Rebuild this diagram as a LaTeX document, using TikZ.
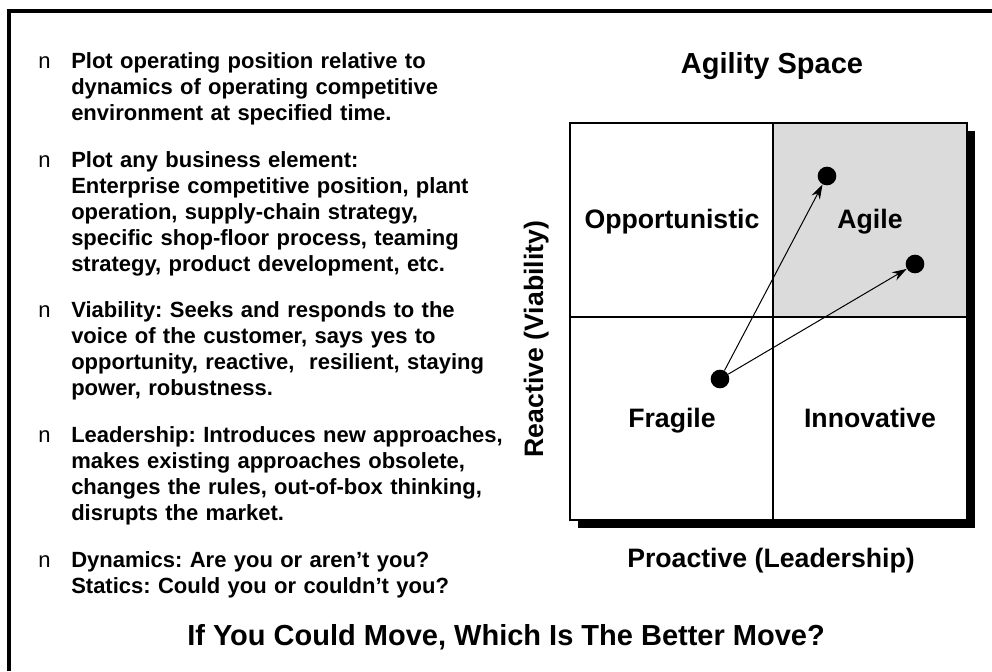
\documentclass[tikz,border=0pt]{standalone}
\usepackage{fontspec}
\setmainfont{Liberation Sans}
\usetikzlibrary{arrows.meta,positioning}

\definecolor{agilegray}{gray}{0.86}
\frenchspacing

\tikzset{
  item/.style={anchor=base west, inner sep=0pt, text width=340pt, align=left,
    font=\bfseries\fontsize{16.5pt}{19.5pt}\selectfont},
  bul/.style={anchor=base west, inner sep=0pt, font=\fontsize{16.5pt}{19.5pt}\selectfont},
  quad/.style={anchor=base, inner sep=0pt, font=\bfseries\fontsize{20pt}{24pt}\selectfont},
  headline/.style={anchor=base, inner sep=0pt, font=\bfseries\fontsize{21.75pt}{26pt}\selectfont},
  dot/.style={circle, fill=black, inner sep=0pt, minimum size=14pt},
  move/.style={-{Stealth[length=11pt,width=7pt]}, line width=0.75pt}
}

\begin{document}
\begin{tikzpicture}[x=0.75pt, y=-0.75pt]
    \useasboundingbox (0,0) rectangle (992,671);

    % Frame
    \draw[line width=3pt] (9,671) -- (9,11) -- (992,11);

    % Bullet list
    \node[bul] at (38,68) {n};
    \node[item] (plot) at (71,68) {Plot operating position relative to\\
        dynamics of operating competitive\\
        environment at specified time.};
    \node[bul] at (38,167) {n};
    \node[item] (element) at (71,167) {Plot any business element:\\
        Enterprise competitive position, plant\\
        operation, supply-chain strategy,\\
        specific shop-floor process, teaming\\
        strategy, product development, etc.};
    \node[bul] at (38,317) {n};
    \node[item] (viability) at (71,317) {Viability: Seeks and responds to the\\
        voice of the customer, says yes to\\
        opportunity, reactive,\ \ resilient, staying\\
        power, robustness.};
    \node[bul] at (38,442) {n};
    \node[item] (leadership) at (71,442) {Leadership: Introduces new approaches,\\
        makes existing approaches obsolete,\\
        changes the rules, out-of-box thinking,\\
        disrupts the market.};
    \node[bul] at (38,567) {n};
    \node[item] (dynamics) at (71,567) {Dynamics: Are you or aren’t you?\\
        Statics: Could you or couldn’t you?};

    % Agility space
    \node[headline] (space) at (772,73) {Agility Space};
    \fill (578,131) rectangle (975,528);
    \fill[white] (570,123) rectangle (967,520);
    \fill[agilegray] (773,123) rectangle (967,317);
    \draw[line width=1.5pt] (773,123) -- (773,520);
    \draw[line width=1.5pt] (570,317) -- (967,317);
    \draw[line width=1.5pt] (570,123) rectangle (967,520);

    \node[quad] (opportunistic) at (672,228) {Opportunistic};
    \node[quad] (agile) at (870,228) {Agile};
    \node[quad] (fragile) at (672,427) {Fragile};
    \node[quad] (innovative) at (870,427) {Innovative};

    \node[quad] (proactive) at (771,567) {Proactive (Leadership)};
    \node[quad, rotate=90] (reactive) at (543,339) {Reactive (Viability)};

    % Moves
    \node[dot] (now) at (720,379) {};
    \node[dot] (up) at (827,176) {};
    \node[dot] (across) at (915,264) {};
    \draw[move] (now) -- (up);
    \draw[move] (now) -- (across);

    \node[headline] (question) at (506,645) {If You Could Move, Which Is The Better Move?};
\end{tikzpicture}
\end{document}
